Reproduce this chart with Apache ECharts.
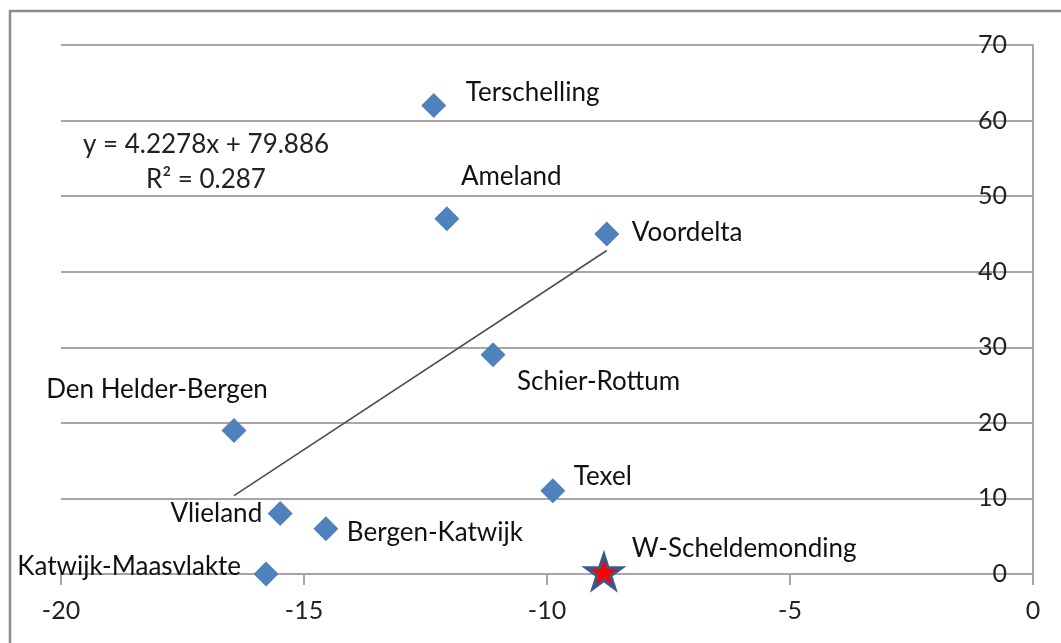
<!DOCTYPE html>
<html>
<head>
<meta charset="utf-8">
<script src="https://cdn.jsdelivr.net/npm/echarts@6/dist/echarts.min.js"></script>
<style>
  html, body { margin: 0; padding: 0; background: #fff; }
  #chart { width: 1061px; height: 643px; }
</style>
</head>
<body>
<div id="chart"></div>
<script>
// gebieden (blauwe ruiten)
const areaNames = ['Terschelling', 'Ameland', 'Voordelta', 'Schier-Rottum', 'Den Helder-Bergen',
  'Texel', 'Vlieland', 'Bergen-Katwijk', 'Katwijk-Maasvlakte']
const areaX = [-12.33, -12.06, -8.77, -11.11, -16.44, -9.88, -15.49, -14.55, -15.78]
const areaY = [62, 47, 45, 29, 19, 11, 8, 6, 0]

// losse ster
const starName = 'W-Scheldemonding'
const starX = [-8.83]
const starY = [0.3]

// trendlijn
const slope = 4.2278
const intercept = 79.886
const eqLines = ['y = 4.2278x + 79.886', 'R\u00b2 = 0.287']

const xTicks = [-20, -15, -10, -5, 0]
const yTicks = [0, 10, 20, 30, 40, 50, 60, 70]

// label placement per name: [align, dx, dy]
const labelPlace = {
  'Terschelling': ['left', 32, -13],
  'Ameland': ['left', 14, -42],
  'Voordelta': ['left', 25, -1],
  'Schier-Rottum': ['left', 24, 27],
  'Den Helder-Bergen': ['center', -77, -41],
  'Texel': ['left', 21, -14],
  'Vlieland': ['right', -18, 0],
  'Bergen-Katwijk': ['left', 21, 4],
  'Katwijk-Maasvlakte': ['right', -25, -7],
  'W-Scheldemonding': ['left', 28, -23]
}

const FONT = 'Lato'
const chart = echarts.init(document.getElementById('chart'))

const mkLabel = (name) => {
  const p = labelPlace[name]
  return {
    show: true,
    position: 'inside',
    formatter: name,
    align: p[0],
    verticalAlign: 'middle',
    offset: [p[1], p[2]],
    color: '#111',
    fontFamily: FONT,
    fontSize: 26
  }
}

const areaData = areaNames.map((n, i) => ({ name: n, value: [areaX[i], areaY[i]], label: mkLabel(n) }))
const starData = starX.map((x, i) => ({ name: starName, value: [x, starY[i]], label: mkLabel(starName) }))

const xMin = Math.min(...areaX)
const xMax = Math.max(...areaX)
const trendData = [[xMin, slope * xMin + intercept], [xMax, slope * xMax + intercept]]

const option = {
  animation: false,
  grid: { left: 61, right: 28, top: 45, bottom: 69 },
  xAxis: {
    type: 'value',
    min: xTicks[0],
    max: xTicks[xTicks.length - 1],
    interval: 5,
    axisLine: { show: true, onZero: false, lineStyle: { color: '#a6a6a6', width: 2 } },
    axisTick: { show: true, length: 11, lineStyle: { color: '#a6a6a6', width: 2 } },
    axisLabel: { color: '#222', fontFamily: FONT, fontSize: 25, margin: 24 },
    splitLine: { show: false }
  },
  yAxis: {
    type: 'value',
    position: 'right',
    min: yTicks[0],
    max: yTicks[yTicks.length - 1],
    interval: 10,
    axisLine: { show: true, lineStyle: { color: '#a6a6a6', width: 2 } },
    axisTick: { show: false },
    axisLabel: { inside: true, margin: 26, color: '#222', fontFamily: FONT, fontSize: 25 },
    splitLine: { show: true, lineStyle: { color: '#a6a6a6', width: 2 } }
  },
  graphic: [
    {
      type: 'rect',
      shape: { x: 10, y: 11, width: 1100, height: 700 },
      style: { fill: 'none', stroke: '#8c8c8c', lineWidth: 2.5 },
      silent: true
    },
    {
      type: 'text',
      style: { x: 206, y: 145, text: eqLines[0], align: 'center', verticalAlign: 'middle',
        fontFamily: FONT, fontSize: 26, fill: '#222' }
    },
    {
      type: 'text',
      style: { x: 206, y: 180, text: eqLines[1], align: 'center', verticalAlign: 'middle',
        fontFamily: FONT, fontSize: 26, fill: '#222' }
    }
  ],
  series: [
    {
      type: 'line',
      data: trendData,
      symbol: 'none',
      z: 2,
      lineStyle: { color: '#4d4d4d', width: 1.6 }
    },
    {
      type: 'scatter',
      data: areaData,
      symbol: 'diamond',
      symbolSize: 25,
      z: 3,
      itemStyle: { color: '#4f81bd', opacity: 1 }
    },
    {
      type: 'scatter',
      data: starData,
      symbol: 'path://M50,0 L61.2,34.5 L97.6,34.5 L68.2,55.9 L79.4,90.5 L50,69.1 L20.6,90.5 L31.8,55.9 L2.4,34.5 L38.8,34.5 Z',
      symbolSize: [36, 34],
      z: 3,
      itemStyle: { color: '#ff0000', borderColor: '#3a5a8c', borderWidth: 3, opacity: 1 }
    }
  ]
}

chart.setOption(option)
window.addEventListener('resize', () => chart.resize())
</script>
</body>
</html>
